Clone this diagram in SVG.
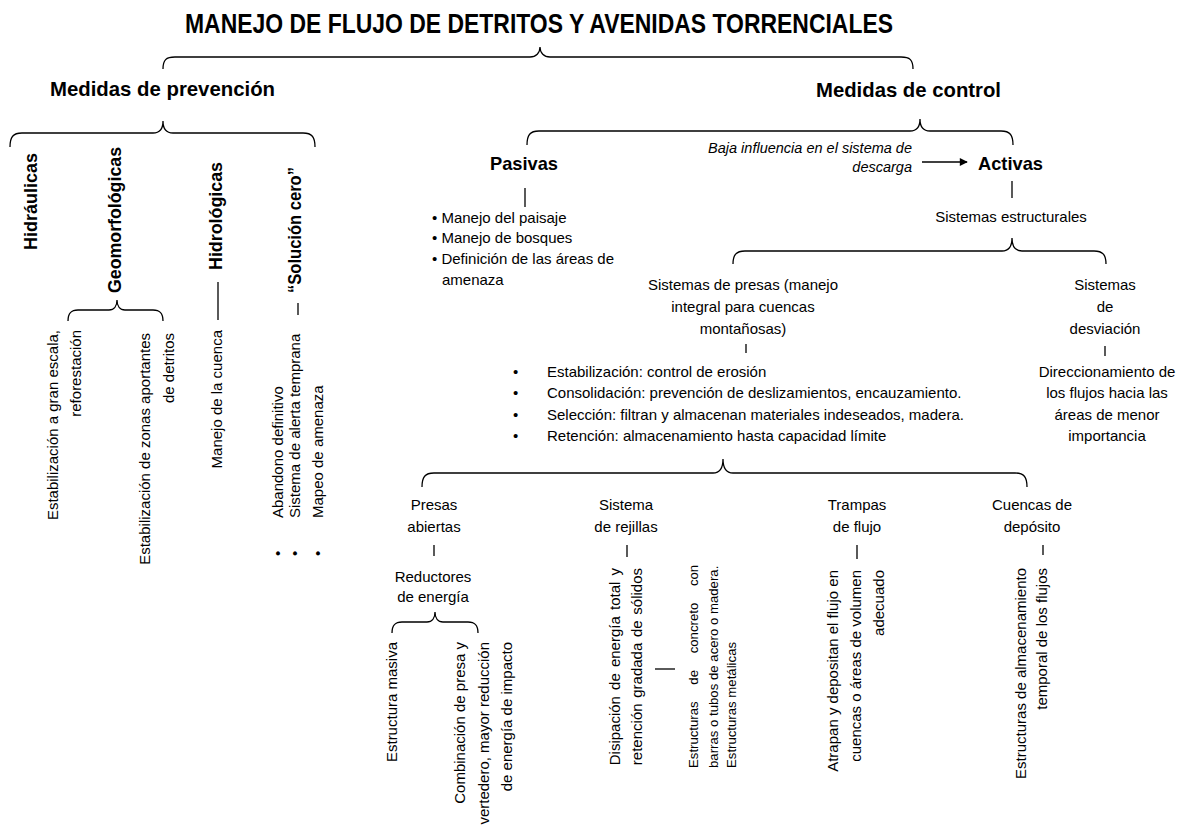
<svg xmlns="http://www.w3.org/2000/svg" width="1180" height="828" viewBox="0 0 1180 828">
<defs>
<marker id="ah" viewBox="0 0 10 10" refX="9" refY="5" markerWidth="10" markerHeight="8" markerUnits="userSpaceOnUse" orient="auto"><path d="M0,0 L10,5 L0,10 z" fill="#000"/></marker>
</defs>
<style>
text{font-family:"Liberation Sans",Arial,sans-serif;fill:#000;font-size:15px}
.b{font-weight:bold}
.i{font-style:italic;font-size:14.5px}
.c{text-anchor:middle}
.e{text-anchor:end}
.s{font-size:13.2px}
.br{fill:none;stroke:#000;stroke-width:1.3}
.ln{fill:none;stroke:#000;stroke-width:1.3}
</style>
<rect width="1180" height="828" fill="#fff"/>
<g id="connectors">
<path class="br" d="M163,69 C163,60 166,57 175,57 L530,57 C536,57 540,53 540,47 C540,53 544,57 550,57 L901,57 C910,57 913,60 913,69"/>
<path class="br" d="M10,147 C10,137 13,133 22,133 L153,133 C159,133 163,129 163,121 C163,129 167,133 173,133 L303,133 C312,133 315,137 315,147"/>
<path class="br" d="M527,145 C527,135 530,131 539,131 L910,131 C916,131 920,127 920,119 C920,127 924,131 930,131 L1001,131 C1010,131 1013,135 1013,145"/>
<path class="br" d="M68,321 C68,313 71,310 78,310 L109,310 C114,310 117,306 117,300 C117,306 120,310 125,310 L153,310 C160,310 163,313 163,321"/>
<path class="br" d="M733,264 C733,255 736,251 745,251 L1002,251 C1008,251 1012,247 1012,238 C1012,247 1016,251 1022,251 L1094,251 C1103,251 1106,255 1106,264"/>
<path class="br" d="M422,487 C422,477 425,473 434,473 L713,473 C719,473 723,469 723,459 C723,469 727,473 733,473 L1015,473 C1024,473 1027,477 1027,487"/>
<path class="br" d="M392,633 C392,625 395,622 402,622 L427,622 C432,622 435,618 435,612 C435,618 438,622 443,622 L468,622 C475,622 478,625 478,633"/>
<path class="ln" d="M525,188 V207"/>
<path class="ln" d="M1012,181 V198"/>
<path class="ln" d="M218,282 V320"/>
<path class="ln" d="M298,303 V315"/>
<path class="ln" d="M746,344 V353"/>
<path class="ln" d="M1105,346 V356"/>
<path class="ln" d="M434,545 V556"/>
<path class="ln" d="M627,545 V557"/>
<path class="ln" d="M857,545 V559"/>
<path class="ln" d="M1043,545 V555"/>
<path class="ln" d="M655,669 H675"/>
<path class="ln" d="M922,162 H967" marker-end="url(#ah)"/>
</g>
<g id="title"><text class="b" x="185" y="33" textLength="708" lengthAdjust="spacingAndGlyphs" style="font-size:28.5px">MANEJO DE FLUJO DE DETRITOS Y AVENIDAS TORRENCIALES</text></g>
<g id="prevencion"><text class="b" x="50" y="96" style="font-size:21px" textLength="225" lengthAdjust="spacingAndGlyphs">Medidas de prevención</text></g>
<g id="control"><text class="b" x="816" y="97" style="font-size:21px" textLength="185" lengthAdjust="spacingAndGlyphs">Medidas de control</text></g>
<g id="hidraulicas"><text class="b e" transform="translate(37,153) rotate(-90)" style="font-size:19px" textLength="97" lengthAdjust="spacingAndGlyphs">Hidráulicas</text></g>
<g id="geomorfologicas"><text class="b e" transform="translate(121,147) rotate(-90)" style="font-size:19px" textLength="146" lengthAdjust="spacingAndGlyphs">Geomorfológicas</text></g>
<g id="geo-gran-escala"><text class="e" transform="translate(58,330) rotate(-90)">Estabilización a gran escala,</text><text class="e" transform="translate(81,330) rotate(-90)">reforestación</text></g>
<g id="geo-zonas"><text class="e" transform="translate(150,333) rotate(-90)">Estabilización de zonas aportantes</text><text class="e" transform="translate(174,333) rotate(-90)">de detritos</text></g>
<g id="hidrologicas"><text class="b e" transform="translate(222,162) rotate(-90)" style="font-size:19px" textLength="108" lengthAdjust="spacingAndGlyphs">Hidrológicas</text></g>
<g id="manejo-cuenca"><text class="e" transform="translate(222,330) rotate(-90)">Manejo de la cuenca</text></g>
<g id="solucion-cero"><text class="b e" transform="translate(301,167) rotate(-90)" style="font-size:19px" textLength="126" lengthAdjust="spacingAndGlyphs">“Solución cero”</text></g>
<g id="solucion-items">
<text transform="translate(283,556) rotate(-90)">•</text><text transform="translate(283,518) rotate(-90)">Abandono definitivo</text>
<text transform="translate(300,556) rotate(-90)">•</text><text transform="translate(300,518) rotate(-90)">Sistema de alerta temprana</text>
<text transform="translate(323,556) rotate(-90)">•</text><text transform="translate(323,518) rotate(-90)">Mapeo de amenaza</text>
</g>
<g id="pasivas"><text class="b" x="490" y="170" style="font-size:19px" textLength="68" lengthAdjust="spacingAndGlyphs">Pasivas</text></g>
<g id="pasivas-items">
<text x="432" y="223">• Manejo del paisaje</text>
<text x="432" y="243">• Manejo de bosques</text>
<text x="432" y="264">• Definición de las áreas de</text>
<text x="442" y="285">amenaza</text>
</g>
<g id="baja-influencia"><text class="i e" x="912" y="153">Baja influencia en el sistema de</text><text class="i e" x="912" y="172">descarga</text></g>
<g id="activas"><text class="b" x="978" y="170" style="font-size:19px" textLength="65" lengthAdjust="spacingAndGlyphs">Activas</text></g>
<g id="sistemas-estructurales"><text class="c" x="1011" y="222">Sistemas estructurales</text></g>
<g id="sistemas-presas"><text class="c" x="743" y="290">Sistemas de presas (manejo</text><text class="c" x="743" y="312">integral para cuencas</text><text class="c" x="743" y="334">montañosas)</text></g>
<g id="sistemas-desviacion"><text class="c" x="1105" y="290">Sistemas</text><text class="c" x="1105" y="312">de</text><text class="c" x="1105" y="334">desviación</text></g>
<g id="presas-funciones">
<text x="513" y="377">•</text><text x="547" y="377">Estabilización: control de erosión</text>
<text x="513" y="398">•</text><text x="547" y="398">Consolidación: prevención de deslizamientos, encauzamiento.</text>
<text x="513" y="420">•</text><text x="547" y="420">Selección: filtran y almacenan materiales indeseados, madera.</text>
<text x="513" y="441">•</text><text x="547" y="441">Retención: almacenamiento hasta capacidad límite</text>
</g>
<g id="direccionamiento"><text class="c" x="1107" y="377">Direccionamiento de</text><text class="c" x="1107" y="398">los flujos hacia las</text><text class="c" x="1107" y="420">áreas de menor</text><text class="c" x="1107" y="441">importancia</text></g>
<g id="presas-abiertas"><text class="c" x="434" y="510">Presas</text><text class="c" x="434" y="532">abiertas</text></g>
<g id="reductores"><text class="c" x="433" y="582">Reductores</text><text class="c" x="433" y="602">de energía</text></g>
<g id="estructura-masiva"><text class="e" transform="translate(397,642) rotate(-90)">Estructura masiva</text></g>
<g id="combinacion"><text class="e" transform="translate(465,642) rotate(-90)">Combinación de presa y</text><text class="e" transform="translate(489,642) rotate(-90)">vertedero, mayor reducción</text><text class="e" transform="translate(512,642) rotate(-90)">de energía de impacto</text></g>
<g id="sistema-rejillas"><text class="c" x="626" y="510">Sistema</text><text class="c" x="626" y="532">de rejillas</text></g>
<g id="disipacion"><text class="e" transform="translate(620,568) rotate(-90)" word-spacing="2">Disipación de energía total y</text><text class="e" transform="translate(642,568) rotate(-90)" word-spacing="1.5">retención gradada de sólidos</text></g>
<g id="estructuras-rejillas"><text class="s" transform="translate(698,768) rotate(-90)" word-spacing="13">Estructuras de concreto con</text><text class="s" transform="translate(718,768) rotate(-90)">barras o tubos de acero o madera.</text><text class="s" transform="translate(736,768) rotate(-90)">Estructuras metálicas</text></g>
<g id="trampas"><text class="c" x="857" y="510">Trampas</text><text class="c" x="857" y="532">de flujo</text></g>
<g id="atrapan"><text class="e" transform="translate(838,570) rotate(-90)">Atrapan y depositan el flujo en</text><text class="e" transform="translate(861,570) rotate(-90)">cuencas o áreas de volumen</text><text class="e" transform="translate(884,570) rotate(-90)">adecuado</text></g>
<g id="cuencas-deposito"><text class="c" x="1032" y="510">Cuencas de</text><text class="c" x="1032" y="532">depósito</text></g>
<g id="almacenamiento"><text class="e" transform="translate(1026,568) rotate(-90)">Estructuras de almacenamiento</text><text class="e" transform="translate(1047,568) rotate(-90)">temporal de los flujos</text></g>
</svg>
